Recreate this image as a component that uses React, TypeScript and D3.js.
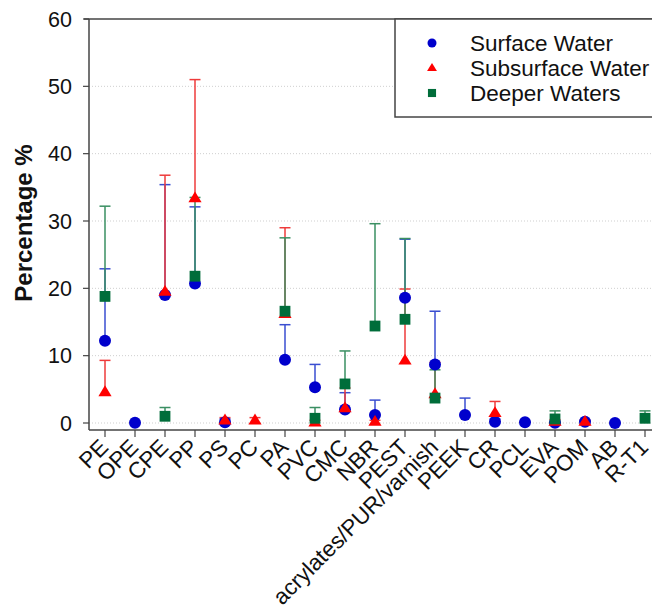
import React from 'react';
import * as d3 from 'd3';

// categories on x axis
const categories = [
  'PE', 'OPE', 'CPE', 'PP', 'PS', 'PC', 'PA', 'PVC', 'CMC', 'NBR', 'PEST',
  'acrylates/PUR/varnish', 'PEEK', 'CR', 'PCL', 'EVA', 'POM', 'AB', 'R-T1',
];

// mean values (null = not sampled) and upper error
const surfaceMean = [12.2, 0.05, 19.0, 20.7, 0.1, null, 9.4, 5.3, 2.0, 1.2, 18.6, 8.7, 1.2, 0.2, 0.1, 0.05, 0.2, 0.0, null];
const surfaceErr = [10.7, 0, 16.4, 11.4, 0.5, null, 5.2, 3.4, 2.5, 2.2, 8.7, 7.9, 2.5, 0.4, 0.1, 0.1, 0.1, 0, null];

const subsurfaceMean = [4.6, null, 19.5, 33.4, 0.4, 0.4, 16.2, 0.1, 2.2, 0.2, 9.3, 4.3, null, 1.5, null, 0.2, 0.2, null, null];
const subsurfaceErr = [4.7, null, 17.3, 17.6, 0.4, 0.4, 12.8, 0.3, 3.0, 0.2, 10.6, 4.7, null, 1.7, null, 0.3, 0.2, null, null];

const deeperMean = [18.8, null, 1.0, 21.8, null, null, 16.6, 0.7, 5.8, 14.4, 15.4, 3.7, null, null, null, 0.6, null, null, 0.7];
const deeperErr = [13.4, null, 1.3, 11.7, null, null, 10.9, 1.6, 4.9, 15.2, 12.0, 4.2, null, null, null, 1.2, null, null, 1.1];

const yTicks = [0, 10, 20, 30, 40, 50, 60];

const series = [
  { name: 'Surface Water', mean: surfaceMean, err: surfaceErr, fill: '#0000cc', line: '#3a4ed0', shape: 'circle' },
  { name: 'Subsurface Water', mean: subsurfaceMean, err: subsurfaceErr, fill: '#ff0000', line: '#ee3b3b', shape: 'triangle' },
  { name: 'Deeper Waters', mean: deeperMean, err: deeperErr, fill: '#006d3a', line: '#3a8f62', shape: 'square' },
];

const font = 'Arial, "Liberation Sans", sans-serif';

function Marker({ shape, x, y, fill, size }: any) {
  if (shape === 'circle') return <circle cx={x} cy={y} r={size / 2} fill={fill} />;
  if (shape === 'square')
    return <rect x={x - size * 0.45} y={y - size * 0.45} width={size * 0.9} height={size * 0.9} fill={fill} />;
  const h = size * 0.9;
  return (
    <path
      d={`M${x},${y - h * 0.62} L${x + size * 0.55},${y + h * 0.38} L${x - size * 0.55},${y + h * 0.38} Z`}
      fill={fill}
    />
  );
}

export default function App() {
  const width = 652;
  const height = 610;
  const left = 89;
  const axisY = 430;

  const x = d3.scalePoint<string>().domain(categories).range([105, 645]);
  const y = d3.scaleLinear().domain([0, 60]).range([423, 19]);

  return (
    <svg width={width} height={height} style={{ position: 'absolute', left: 0, top: 0, background: '#fff' }}>
      {/* grid */}
      {yTicks.slice(0, -1).map((t) => (
        <line key={'g' + t} x1={left} x2={width} y1={y(t)} y2={y(t)} stroke="#cfcfcf" strokeWidth={1} strokeDasharray="1,2" />
      ))}
      {/* frame */}
      <line x1={left - 5} x2={width} y1={y(60)} y2={y(60)} stroke="#444" strokeWidth={1.5} />
      <line x1={left} x2={left} y1={y(60)} y2={axisY} stroke="#444" strokeWidth={1.5} />
      <line x1={left} x2={width} y1={axisY} y2={axisY} stroke="#444" strokeWidth={1.5} />

      {/* y ticks */}
      {yTicks.map((t) => (
        <g key={'y' + t}>
          <line x1={left - 6} x2={left} y1={y(t)} y2={y(t)} stroke="#444" strokeWidth={1.2} />
          <text x={72} y={y(t)} dy="0.36em" textAnchor="end" fontFamily={font} fontSize={21.5} fill="#111">
            {t}
          </text>
        </g>
      ))}
      <text
        transform={`translate(32,${y(30) + 2}) rotate(-90)`}
        textAnchor="middle"
        fontFamily={font}
        fontSize={24}
        fontWeight="bold"
        fill="#111"
      >
        Percentage %
      </text>

      {/* x ticks */}
      {categories.map((c) => (
        <g key={'x' + c}>
          <line x1={x(c)!} x2={x(c)!} y1={axisY} y2={axisY + 7} stroke="#444" strokeWidth={1.2} />
          <text
            transform={`translate(${x(c)! - 1},${axisY + 13}) rotate(-45)`}
            textAnchor="end"
            dy="0.35em"
            fontFamily={font}
            fontSize={22.5}
            fill="#111"
          >
            {c}
          </text>
        </g>
      ))}

      {/* error bars */}
      {series.map((s) =>
        categories.map((c, i) => {
          const m = s.mean[i];
          const e = s.err[i];
          if (m == null || !e) return null;
          const cx = x(c)!;
          return (
            <g key={s.name + 'e' + c} stroke={s.line} strokeWidth={1.5}>
              <line x1={cx} x2={cx} y1={y(m)} y2={y(m + e)} />
              <line x1={cx - 5.5} x2={cx + 5.5} y1={y(m + e)} y2={y(m + e)} />
            </g>
          );
        })
      )}

      {/* markers */}
      {series.map((s) =>
        categories.map((c, i) => {
          const m = s.mean[i];
          if (m == null) return null;
          return <Marker key={s.name + 'm' + c} shape={s.shape} x={x(c)!} y={y(m)} fill={s.fill} size={12} />;
        })
      )}

      {/* legend */}
      <rect x={395} y={19} width={width} height={98} fill="#fff" stroke="#444" strokeWidth={1.5} />
      {series.map((s, i) => (
        <g key={'l' + s.name}>
          <Marker shape={s.shape} x={432} y={43 + i * 25} fill={s.fill} size={9} />
          <text x={470} y={43 + i * 25} dy="0.36em" fontFamily={font} fontSize={22.5} fill="#111">
            {s.name}
          </text>
        </g>
      ))}
    </svg>
  );
}
